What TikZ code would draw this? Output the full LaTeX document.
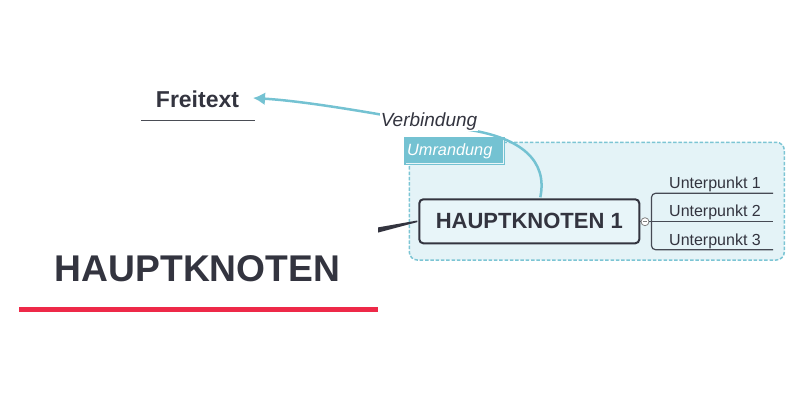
\documentclass[tikz,border=0pt]{standalone}
\usepackage{fontspec}
\setmainfont{Liberation Sans}
\usetikzlibrary{arrows.meta,calc}
\definecolor{ink}{RGB}{51,52,63}
\definecolor{hred}{RGB}{238,41,72}
\definecolor{tealc}{RGB}{116,194,210}
\definecolor{bfill}{RGB}{228,243,247}
\definecolor{bline}{RGB}{124,197,212}
\definecolor{boxfill}{RGB}{232,245,249}
\definecolor{linegray}{RGB}{70,74,84}
\begin{document}
\begin{tikzpicture}[x=1pt,y=-1pt,
  maintext/.style={font=\fontsize{37.2}{42}\selectfont\bfseries, text=ink, inner sep=0pt, anchor=base},
  freetext/.style={font=\fontsize{23}{26}\selectfont\bfseries, text=ink, inner sep=0pt, anchor=base},
  topicbox/.style={draw=ink, line width=2pt, rounded corners=4pt, fill=boxfill, minimum width=220pt, minimum height=44pt, inner sep=0pt, font=\fontsize{22}{24}\selectfont\bfseries, text=ink},
  subtext/.style={font=\fontsize{16}{18}\selectfont, text=ink, inner sep=0pt, anchor=base},
  umlabel/.style={fill=tealc, text=white, anchor=west, minimum height=28pt, text width=95pt, inner xsep=3pt, inner ysep=0pt, align=left, font=\fontsize{16.3}{18}\selectfont\itshape},
  vlabel/.style={fill=white, text=ink, inner sep=0.5pt, anchor=base, font=\fontsize{19}{21}\selectfont\itshape},
  boundary/.style={draw=bline, fill=bfill, line width=1.5pt, dash pattern=on 3.5pt off 1.8pt, rounded corners=8pt},
  relline/.style={draw=tealc, line width=2.5pt, -{Latex[length=12pt,width=13pt]}},
  branch/.style={draw=linegray, line width=1.2pt},
  collapse/.style={circle, draw=gray, fill=white, minimum size=8pt, inner sep=0pt, line width=0.8pt}
]
\useasboundingbox (0,0) rectangle (800,400);

% main topic
\node[maintext] (haupt) at (197.5,281.7) {HAUPTKNOTEN};
\coordinate (hl) at (19,309.5);
\coordinate (hr) at (378,309.5);
\draw[hred, line width=5.6pt] (hl) -- (hr);

% free text
\node[freetext] (frei) at (197.5,107.3) {Freitext};
\coordinate (fl) at (141,120.7);
\coordinate (fr) at (255,120.7);
\draw[draw={rgb,255:red,74;green,77;blue,85}, line width=1.3pt] (fl) -- (fr);

% boundary
\draw[boundary] (409.3,142.3) rectangle (784.3,260);
\node[umlabel] (uml) at (404,151.2) {Umrandung};
\draw[white, line width=0.8pt, opacity=0.85] ($(uml.north east)+(-2.5,2)$) -- ($(uml.south east)+(-2.5,-2)$) -- ($(uml.south west)+(2,-2)$);

% topic 1
\node[topicbox] (hk1) at (529.3,221.3) {HAUPTKNOTEN 1};
\coordinate (cstart) at (378,230);
\fill[ink] ($(cstart)+(0,-2.6)$) -- ($(hk1.west)+(-1,-0.8)$) -- ($(hk1.west)+(-1,0.8)$) -- ($(cstart)+(0,2.6)$) -- cycle;

% relationship
\coordinate (tip) at (253,98);
\draw[relline] ($(hk1.north)+(11,-1)$) .. controls (548,160) and (520,138) .. (470,130) .. controls (420,122) and (320,102) .. (tip);
\node[vlabel] (verb) at (429,126.7) {Verbindung};

% subtopics
\node[collapse] (col) at (645,221.7) {};
\draw[gray, line width=0.8pt] ($(col.center)+(-2,0)$) -- ($(col.center)+(2,0)$);
\node[subtext] (u1) at (715,188.3) {Unterpunkt 1};
\node[subtext] (u2) at (715,216.8) {Unterpunkt 2};
\node[subtext] (u3) at (715,245.1) {Unterpunkt 3};
\coordinate (e1) at (773,193.3);
\coordinate (e2) at (773,221.7);
\coordinate (e3) at (773,249.7);
\draw[branch] (hk1.east) -- (col.west);
\draw[branch] (col.east) -- (e2);
\draw[branch, rounded corners=4pt] (e1) -- (651.5,193.3) -- (651.5,249.7) -- (e3);
\end{tikzpicture}
\end{document}
